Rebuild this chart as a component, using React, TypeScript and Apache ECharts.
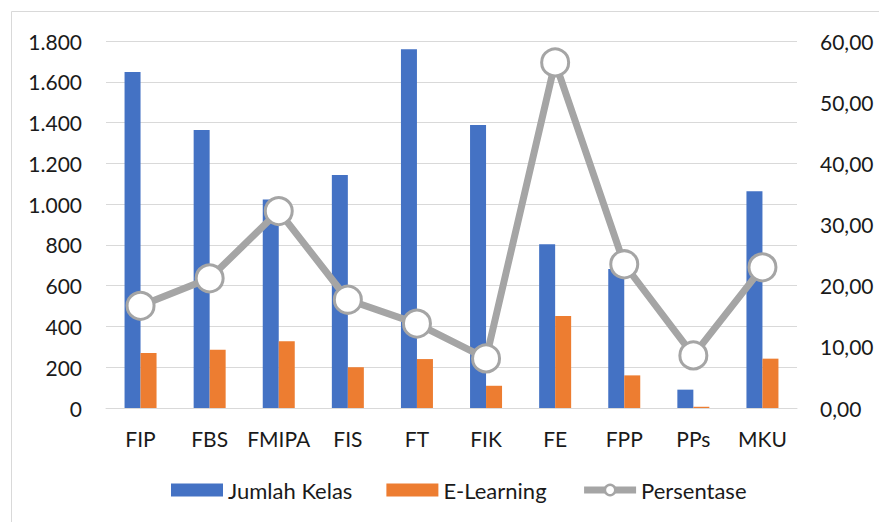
import React, { useEffect, useRef } from "react";
import * as echarts from "echarts";

const categories = ["FIP", "FBS", "FMIPA", "FIS", "FT", "FIK", "FE", "FPP", "PPs", "MKU"];
const jumlahKelas = [1648, 1363, 1023, 1143, 1759, 1388, 803, 682, 90, 1063];
const eLearning = [270, 286, 327, 200, 240, 109, 451, 160, 6, 242];
const persentase = [16.7, 21.2, 32.2, 17.7, 13.8, 8.1, 56.5, 23.5, 8.6, 23.0];
const leftTicks = { min: 0, max: 1800, interval: 200 };
const rightTicks = { min: 0, max: 60, interval: 10 };

const FONT = "Lato";

function fmtLeft(v: number): string {
  const s = Math.round(v).toString();
  return s.replace(/\B(?=(\d{3})+(?!\d))/g, ".");
}
function fmtRight(v: number): string {
  return v.toFixed(2).replace(".", ",");
}

export default function App() {
  const ref = useRef<HTMLDivElement>(null);
  useEffect(() => {
    if (!ref.current) return;
    const chart = echarts.init(ref.current, undefined, { renderer: "svg" });
    chart.setOption({
      animation: false,
      backgroundColor: "#ffffff",
      textStyle: { fontFamily: FONT },
      graphic: [
        {
          type: "rect",
          shape: { x: 11.5, y: 11.5, width: 900, height: 600 },
          style: { fill: "none", stroke: "#D9D9D9", lineWidth: 1 },
          silent: true,
        },
      ],
      grid: { left: 106, right: 82, top: 41, bottom: 114, containLabel: false },
      legend: {
        bottom: 16,
        left: 166,
        itemWidth: 52,
        itemHeight: 13,
        itemGap: 34,
        textStyle: { fontSize: 22, color: "#1a1a1a", fontFamily: FONT },
        data: [
          { name: "Jumlah Kelas", icon: "rect" },
          { name: "E-Learning", icon: "rect" },
          {
            name: "Persentase",
            lineStyle: { width: 7, color: "#A5A5A5" },
            itemStyle: { color: "#ffffff", borderColor: "#A5A5A5", borderWidth: 2.5 },
          },
        ],
      },
      xAxis: {
        type: "category",
        data: categories,
        axisLine: { lineStyle: { color: "#D9D9D9", width: 1 } },
        axisTick: { show: false },
        axisLabel: { interval: 0, fontSize: 21, color: "#1a1a1a", margin: 20, fontFamily: FONT },
      },
      yAxis: [
        {
          type: "value",
          min: leftTicks.min,
          max: leftTicks.max,
          interval: leftTicks.interval,
          axisLine: { show: false },
          axisTick: { show: false },
          splitLine: { lineStyle: { color: "#D9D9D9", width: 1 } },
          axisLabel: { fontSize: 21, color: "#1a1a1a", margin: 24, formatter: fmtLeft, fontFamily: FONT },
        },
        {
          type: "value",
          min: rightTicks.min,
          max: rightTicks.max,
          interval: rightTicks.interval,
          position: "right",
          axisLine: { show: false },
          axisTick: { show: false },
          splitLine: { show: false },
          axisLabel: { fontSize: 21, color: "#1a1a1a", margin: 23, formatter: fmtRight, fontFamily: FONT },
        },
      ],
      series: [
        {
          name: "Jumlah Kelas",
          type: "bar",
          data: jumlahKelas,
          barWidth: 16,
          barGap: "0%",
          itemStyle: { color: "#4472C4" },
          z: 2,
        },
        {
          name: "E-Learning",
          type: "bar",
          data: eLearning,
          barWidth: 16,
          barGap: "0%",
          itemStyle: { color: "#ED7D31" },
          z: 2,
        },
        {
          name: "Persentase",
          type: "line",
          yAxisIndex: 1,
          data: persentase,
          symbol: "circle",
          symbolSize: 27,
          lineStyle: { color: "#A5A5A5", width: 7 },
          itemStyle: { color: "#ffffff", borderColor: "#A5A5A5", borderWidth: 3 },
          z: 5,
        },
      ],
    });
    return () => chart.dispose();
  }, []);
  return (
    <div
      ref={ref}
      style={{ position: "absolute", left: 0, top: 0, width: 879, height: 522 }}
    />
  );
}
